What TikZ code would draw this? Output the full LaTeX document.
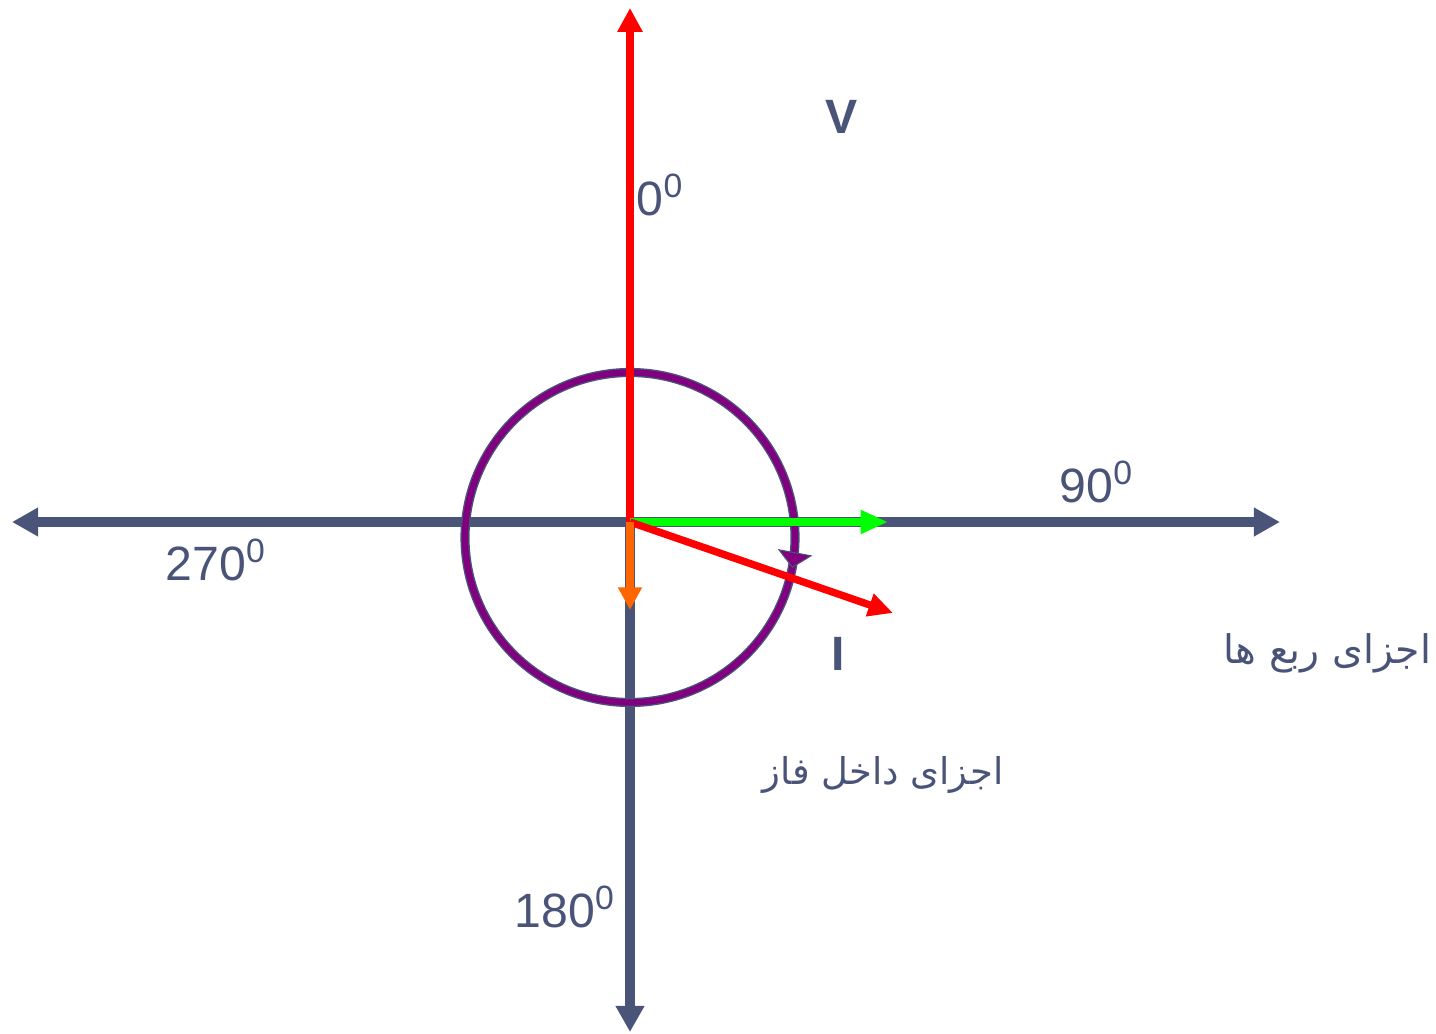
\documentclass[tikz,border=0pt]{standalone}
\usepackage{fontspec}
\setmainfont{Liberation Sans}
\newfontfamily\arabicfont[Script=Arabic]{DejaVu Sans}
\TeXXeTstate=1
\usetikzlibrary{arrows.meta}
\definecolor{pizarra}{RGB}{74,83,120}
\definecolor{rojito}{RGB}{255,0,0}
\definecolor{verdecito}{RGB}{0,255,0}
\definecolor{naranjita}{RGB}{255,102,0}
\definecolor{moradito}{RGB}{128,0,128}
\tikzset{>=Triangle,
  eje/.style={pizarra, line width=2.6pt},
  fasor/.style={line width=2.1pt},
  etiqueta/.style={pizarra, inner sep=0pt, font=\fontsize{13.7}{16}\selectfont},
  arabe/.style={pizarra, inner sep=0pt, font=\arabicfont\fontsize{10.5}{13}\selectfont}}

\begin{document}
\begin{tikzpicture}[x=0.01cm, y=0.01cm]
    \useasboundingbox (0,0) rectangle (1436,-1034);
    % points
    \coordinate (O) at (630,-522);
    \coordinate (izq) at (12,-522);
    \coordinate (der) at (1280,-522);
    \coordinate (abajo) at (630,-1032);
    \coordinate (puntaV) at (630,-8);
    \coordinate (puntaVerde) at (888,-522);
    \coordinate (puntaI) at (893,-613);
    \coordinate (puntaNaranja) at (630,-610);
    \coordinate (centro) at (630,-537.5);
    % axes
    \draw[eje, {Triangle[length=7.4pt, width=7.7pt]}-{Triangle[length=7.4pt, width=7.7pt]}] (izq) -- (der);
    \draw[eje, -{Triangle[length=7.4pt, width=7.7pt]}] (O) -- (abajo);
    % ring
    \draw[pizarra, line width=2.6pt] (centro) circle[radius=165];
    \draw[moradito, line width=1.8pt] (centro) circle[radius=165];
    \draw[moradito, line width=0.3pt, -{Triangle[length=4.5pt, width=10pt, color=pizarra, fill=moradito]}]
      ([shift={(-3:165)}]centro) arc[start angle=-3, end angle=-10.6, radius=165];
    % phasors
    \draw[fasor, rojito, -{Triangle[length=6.8pt, width=6.8pt]}] (O) -- (puntaV);
    \draw[fasor, verdecito, -{Triangle[length=7.8pt, width=6.4pt]}] (O) -- (puntaVerde);
    \draw[fasor, rojito, -{Triangle[length=7pt, width=6.4pt]}] (O) -- (puntaI);
    \draw[fasor, naranjita, -{Triangle[length=6.4pt, width=6.4pt]}] (O) -- (puntaNaranja);
    % labels
    \node[etiqueta, font=\fontsize{13.7}{16}\selectfont\bfseries] (lblV) at (842,-117) {V};
    \node[etiqueta, font=\fontsize{13.7}{16}\selectfont\bfseries] (lblI) at (838,-654) {I};
    \node[etiqueta, anchor=base west] (lbl0) at (636,-216) {0\textsuperscript{0}};
    \node[etiqueta, anchor=base west] (lbl90) at (1059,-503) {90\textsuperscript{0}};
    \node[etiqueta, anchor=base west] (lbl270) at (165,-581) {270\textsuperscript{0}};
    \node[etiqueta, anchor=base west] (lbl180) at (514,-928) {180\textsuperscript{0}};
    \node[arabe, anchor=base east, font=\arabicfont\fontsize{11.2}{13}\selectfont] (lblRubo) at (1432,-664) {\beginR اجزای ربع ها\endR};
    \node[arabe, anchor=base east] (lblDakhel) at (1004,-785) {\beginR اجزای داخل فاز\endR};
\end{tikzpicture}
\end{document}
